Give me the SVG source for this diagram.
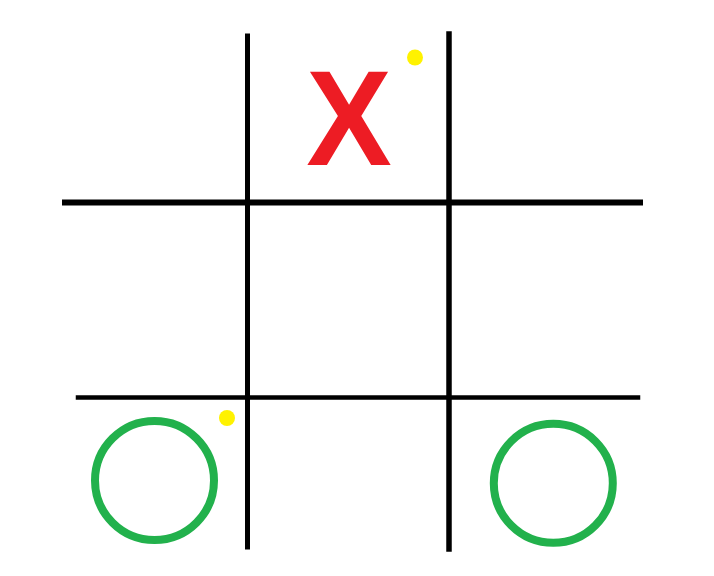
<svg xmlns="http://www.w3.org/2000/svg" width="714" height="576" viewBox="0 0 714 576">
<style>
.grid{stroke:#000;stroke-linecap:square;fill:none}
.o{fill:none;stroke:#22b14c;stroke-width:8}
.dot{fill:#fff200}
.x{font-family:"Liberation Sans",Arial,sans-serif;font-weight:bold;fill:#ed1c24}
</style>
<rect width="714" height="576" fill="#fff"/>
<g id="grid">
<line class="grid" x1="247.5" y1="36" x2="247.5" y2="547" stroke-width="5"/>
<line class="grid" x1="449" y1="34" x2="449" y2="549" stroke-width="5.5"/>
<line class="grid" x1="65" y1="202.5" x2="640" y2="202.5" stroke-width="6"/>
<line class="grid" x1="78" y1="397.5" x2="638" y2="397.5" stroke-width="4.5"/>
</g>
<g id="x-mark">
<text class="x" x="349" y="165" font-size="135" text-anchor="middle" transform="translate(349 0) scale(0.95 1) translate(-349 0)">X</text>
</g>
<g id="o-left"><circle class="o" cx="154.5" cy="480.5" r="59.5"/></g>
<g id="o-right"><circle class="o" cx="553.3" cy="483.3" r="59.5"/></g>
<g id="dots">
<circle class="dot" cx="415" cy="57.5" r="8"/>
<circle class="dot" cx="227" cy="418" r="8"/>
</g>
</svg>
